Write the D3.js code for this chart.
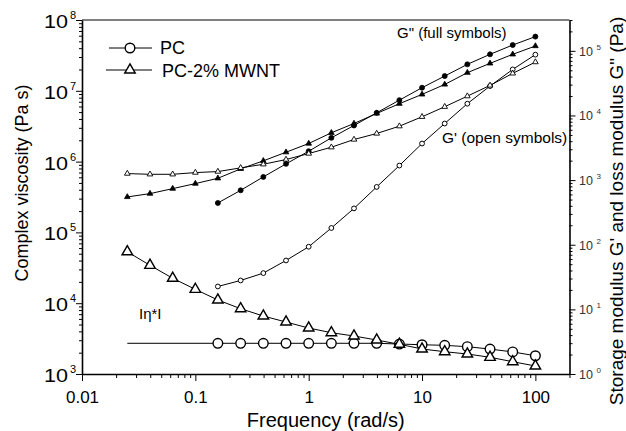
<!DOCTYPE html>
<html>
<head>
<meta charset="utf-8">
<script src="https://cdn.jsdelivr.net/npm/d3@7"></script>
<style>
  body { margin: 0; background: #fff; }
  text { font-family: "Liberation Sans", Arial, sans-serif; fill: #000; }
</style>
</head>
<body>
<div id="chart"></div>
<script>
// frequencies (rad/s)
const freq = [0.0251, 0.0398, 0.0631, 0.1, 0.158, 0.251, 0.398, 0.631, 1, 1.585, 2.51, 3.98, 6.31, 10, 15.85, 25.1, 39.8, 63.1, 100];
const pcFreq = [0.158, 0.251, 0.398, 0.631, 1, 1.585, 2.51, 3.98, 6.31, 10, 15.85, 25.1, 39.8, 63.1, 100];

// complex viscosity (left axis)
const mwntEta = [53300, 34300, 22500, 15700, 11100, 8360, 6590, 5420, 4460, 3830, 3440, 3020, 2630, 2255, 2065, 1916, 1722, 1492, 1297];
const pcEta = [2715, 2715, 2715, 2715, 2715, 2715, 2715, 2715, 2650, 2590, 2540, 2430, 2250, 2050, 1810];
const pcEtaExtFreq = [0.0251, 0.158];
const pcEtaExt = [2715, 2715];

// moduli (right axis)
const pcG2 = [443, 695, 1121, 1783, 2797, 4510, 7000, 11000, 17250, 26900, 40700, 61800, 88300, 123000, 166000];
const pcG1 = [22.6, 28.0, 36.4, 57.1, 93.1, 181.6, 365, 784, 1679, 3680, 7510, 15200, 28500, 51600, 87300];
const mwntG2 = [549, 618, 738, 883, 1067, 1492, 1986, 2700, 3680, 5400, 7510, 10740, 15200, 21200, 30200, 45900, 64000, 88300, 118700];
const mwntG1 = [1261, 1230, 1230, 1307, 1355, 1546, 1758, 2080, 2576, 3226, 4247, 5260, 6826, 9540, 13650, 19900, 29200, 44800, 67000];

const xTicks = [0.01, 0.1, 1, 10, 100];
const yLTicks = [1e3, 1e4, 1e5, 1e6, 1e7, 1e8];
const yRTicks = [1, 10, 100, 1e3, 1e4, 1e5];

const width = 626, height = 431;
const L = 82, R = 569.5, T = 20, B = 374;

const svg = d3.select('#chart').append('svg').attr('width', width).attr('height', height);

const x = d3.scaleLog().domain([0.01, 200]).range([L, R]);
const yL = d3.scaleLog().domain([1e3, 1e8]).range([B, T]);
const yR = d3.scaleLog().domain([1, 3e5]).range([B, T]);

function minors(lo, hi) {
  const out = [];
  for (let d = lo; d < hi; d *= 10) for (let k = 2; k <= 9; k++) out.push(d * k);
  return out;
}

// axes
const gx = svg.append('g').attr('transform', `translate(0,${B})`)
  .call(d3.axisBottom(x).tickValues(xTicks).tickSize(7).tickSizeOuter(0).tickPadding(10)
    .tickFormat(d => d < 1 ? String(d) : d3.format('d')(d)));
svg.append('g').attr('transform', `translate(0,${B})`)
  .call(d3.axisBottom(x).tickValues(minors(0.01, 100).concat([200])).tickSize(4).tickFormat(''))
  .select('.domain').remove();
gx.selectAll('text').style('font-size', '17px');

svg.append('g').attr('transform', `translate(${L},0)`)
  .call(d3.axisLeft(yL).tickValues(yLTicks).tickSize(6).tickSizeOuter(0).tickFormat(''));
svg.append('g').attr('transform', `translate(${L},0)`)
  .call(d3.axisLeft(yL).tickValues(minors(1e3, 1e8)).tickSize(3).tickFormat(''))
  .select('.domain').remove();

svg.append('g').attr('transform', `translate(${R},0)`)
  .call(d3.axisRight(yR).tickValues(yRTicks).tickSize(6).tickSizeOuter(0).tickFormat(''));
svg.append('g').attr('transform', `translate(${R},0)`)
  .call(d3.axisRight(yR).tickValues(minors(1, 1e5).concat([2e5, 3e5])).tickSize(3).tickFormat(''))
  .select('.domain').remove();

svg.append('line').attr('x1', L).attr('x2', R).attr('y1', T).attr('y2', T).attr('stroke', '#000');
svg.selectAll('.domain').attr('stroke-width', 1.6);

// power-of-ten labels
yLTicks.forEach(v => {
  svg.append('text').attr('x', 44).attr('y', yL(v) + 8).style('font-size', '18px')
    .attr('textLength', 24).attr('lengthAdjust', 'spacingAndGlyphs').text('10');
  svg.append('text').attr('x', 70).attr('y', yL(v) - 1).style('font-size', '11px').text(Math.log10(v));
});
yRTicks.forEach(v => {
  svg.append('text').attr('x', 579).attr('y', yR(v) + 5).style('font-size', '12.5px').style('fill', '#333').text('10');
  svg.append('text').attr('x', 596.5).attr('y', yR(v) - 1).style('font-size', '8px').style('fill', '#333').text(Math.log10(v));
});

// axis titles
svg.append('text').attr('x', (L + R) / 2).attr('y', 427).attr('text-anchor', 'middle')
  .style('font-size', '20px').text('Frequency (rad/s)');
svg.append('text').attr('transform', 'translate(28,183) rotate(-90)').attr('text-anchor', 'middle')
  .style('font-size', '18px').text('Complex viscosity (Pa s)');
svg.append('text').attr('transform', 'translate(623,211) rotate(-90)').attr('text-anchor', 'middle')
  .style('font-size', '19px').text('Storage modulus G\' and loss modulus G" (Pa)');

// lines
function line(xs, ys, yScale) {
  const pts = xs.map((f, i) => [x(f), yScale(ys[i])]);
  svg.append('path').attr('d', d3.line()(pts)).attr('fill', 'none').attr('stroke', '#000').attr('stroke-width', 1);
  return pts;
}
function circles(pts, r, fill, sw) {
  svg.append('g').selectAll('circle').data(pts).enter().append('circle')
    .attr('cx', d => d[0]).attr('cy', d => d[1]).attr('r', r)
    .attr('fill', fill).attr('stroke', '#000').attr('stroke-width', sw);
}
function triangles(pts, size, fill, sw) {
  svg.append('g').selectAll('path').data(pts).enter().append('path')
    .attr('d', d3.symbol(d3.symbolTriangle, size))
    .attr('transform', d => `translate(${d[0]},${d[1]})`)
    .attr('fill', fill).attr('stroke', '#000').attr('stroke-width', sw);
}

line(pcEtaExtFreq, pcEtaExt, yL);
circles(line(pcFreq, pcEta, yL), 4.8, '#fff', 1.4);
triangles(line(freq, mwntEta, yL), 48, '#fff', 1.4);

circles(line(pcFreq, pcG2, yR), 2.5, '#000', 0.8);
triangles(line(freq, mwntG2, yR), 14, '#000', 0.8);
circles(line(pcFreq, pcG1, yR), 2.4, '#fff', 1);
triangles(line(freq, mwntG1, yR), 14, '#fff', 0.9);

// legend
svg.append('line').attr('x1', 109).attr('x2', 152).attr('y1', 48).attr('y2', 48).attr('stroke', '#000');
circles([[130, 48]], 4.8, '#fff', 1.4);
svg.append('text').attr('x', 160).attr('y', 54).style('font-size', '18px').text('PC');
svg.append('line').attr('x1', 106).attr('x2', 152).attr('y1', 70).attr('y2', 70).attr('stroke', '#000');
triangles([[130, 70]], 48, '#fff', 1.4);
svg.append('text').attr('x', 162).attr('y', 77).style('font-size', '18px').text('PC-2% MWNT');

// annotations
svg.append('text').attr('x', 397).attr('y', 38).style('font-size', '15px').text('G" (full symbols)');
svg.append('text').attr('x', 442).attr('y', 143).style('font-size', '15.5px').text('G\' (open symbols)');
svg.append('text').attr('x', 139).attr('y', 319).style('font-size', '15px').text('I\u03b7*I');
</script>
</body>
</html>
